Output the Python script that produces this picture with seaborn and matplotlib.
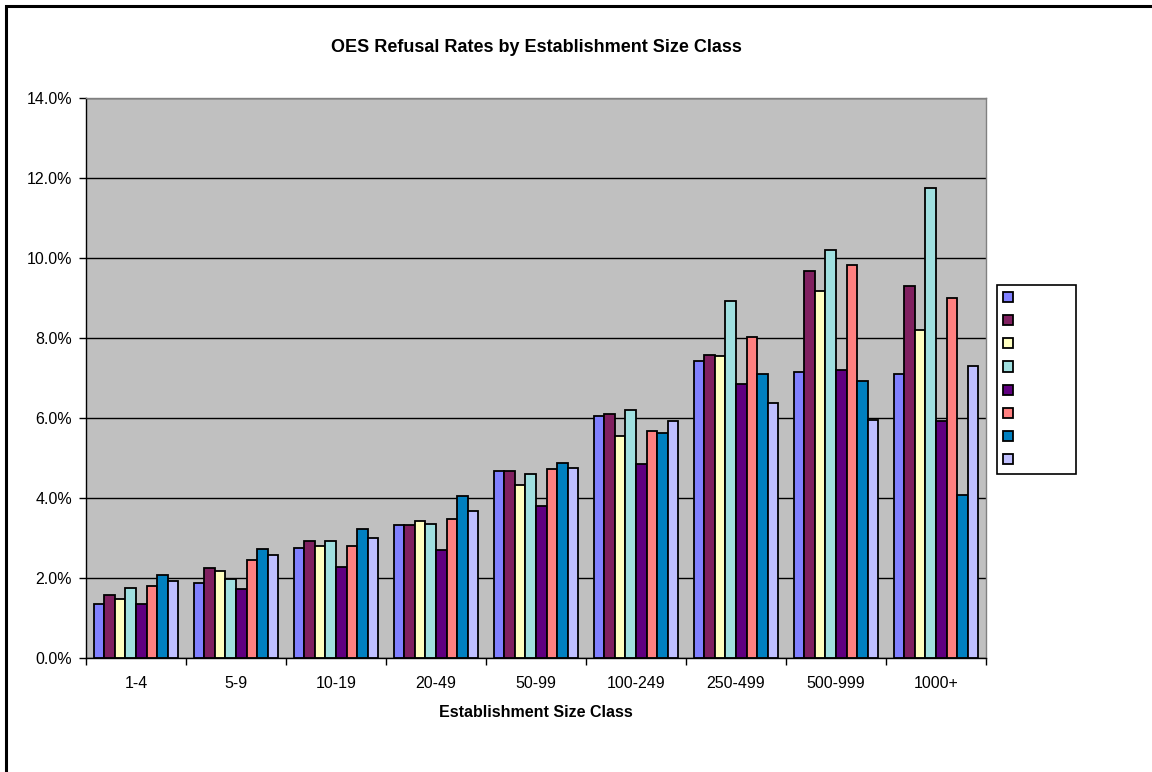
import pandas as pd
import numpy as np
import matplotlib
matplotlib.use("Agg")
import matplotlib.pyplot as plt
from matplotlib.patches import Rectangle
from matplotlib.ticker import FuncFormatter, FixedLocator
import seaborn as sns

# ===============================
# Data (refusal rate, %)
# ===============================
size_classes = ["1-4", "5-9", "10-19", "20-49", "50-99",
                "100-249", "250-499", "500-999", "1000+"]
series_names = ["S1", "S2", "S3", "S4", "S5", "S6", "S7", "S8"]

s1 = [1.36, 1.87, 2.75, 3.32, 4.68, 6.04, 7.42, 7.15, 7.11]
s2 = [1.58, 2.24, 2.93, 3.32, 4.67, 6.10, 7.57, 9.67, 9.30]
s3 = [1.47, 2.17, 2.81, 3.42, 4.32, 5.56, 7.54, 9.17, 8.20]
s4 = [1.74, 1.97, 2.93, 3.36, 4.60, 6.19, 8.93, 10.20, 11.74]
s5 = [1.35, 1.72, 2.28, 2.70, 3.81, 4.84, 6.85, 7.19, 5.93]
s6 = [1.79, 2.44, 2.81, 3.47, 4.72, 5.67, 8.02, 9.82, 9.00]
s7 = [2.07, 2.72, 3.22, 4.04, 4.87, 5.63, 7.10, 6.93, 4.08]
s8 = [1.92, 2.57, 2.99, 3.67, 4.76, 5.92, 6.38, 5.94, 7.31]

palette = ["#8080FF", "#802060", "#FFFFC0", "#A0E0E0",
           "#600080", "#FF8080", "#0080C0", "#C0C0FF"]

all_series = [s1, s2, s3, s4, s5, s6, s7, s8]
rows = []
for name, vals in zip(series_names, all_series):
    for size, v in zip(size_classes, vals):
        rows.append({"size": size, "series": name, "rate": v / 100.0})
df = pd.DataFrame(rows)

# ===============================
# Plot
# ===============================
sns.set_style("white")
plt.rcParams['font.family'] = ['Liberation Sans', 'DejaVu Sans']
plt.rcParams['text.color'] = 'black'
plt.rcParams['axes.labelcolor'] = 'black'
plt.rcParams['xtick.color'] = 'black'
plt.rcParams['ytick.color'] = 'black'

fig = plt.figure(figsize=(11.52, 7.72), dpi=100)
ax = fig.add_axes([86 / 1152, 1 - 658 / 772, 900 / 1152, 560 / 772])
ax.set_facecolor("#C0C0C0")

sns.barplot(data=df, x="size", y="rate", hue="series", order=size_classes,
            hue_order=series_names, palette=palette, width=8 / 9.5,
            edgecolor="black", linewidth=1.3, saturation=1, ax=ax)

ax.set_ylim(0, 0.14)
ax.set_xlim(-0.5, len(size_classes) - 0.5)
ax.set_yticks(np.arange(0, 0.141, 0.02))
ax.yaxis.set_major_formatter(FuncFormatter(lambda v, p: f"{v * 100:.1f}%"))
ax.grid(axis="y", color="black", linewidth=1.0)
ax.set_axisbelow(True)

ax.xaxis.set_minor_locator(FixedLocator(np.arange(-0.5, len(size_classes), 1.0)))
ax.tick_params(axis="x", which="major", length=0, pad=13, labelsize=11.5, colors="black")
ax.tick_params(axis="x", which="minor", length=5, width=1, color="black", bottom=True)
ax.tick_params(axis="y", length=5, width=1, color="black", labelcolor="black",
               pad=5, labelsize=11.5, left=True)

for side in ["top", "right"]:
    ax.spines[side].set_color("#808080")
    ax.spines[side].set_linewidth(1.0)
for side in ["left", "bottom"]:
    ax.spines[side].set_color("black")
    ax.spines[side].set_linewidth(1.0)

ax.set_ylabel("")
ax.set_xlabel("Establishment Size Class", fontsize=11.5, fontweight="bold",
              labelpad=10, color="black")

fig.text(536 / 1152, 1 - 47 / 772, "OES Refusal Rates by Establishment Size Class",
         ha="center", va="center", fontsize=13, fontweight="bold", color="black")

# legend: colour squares only, no labels
handles, labels = ax.get_legend_handles_labels()
ax.legend(handles, [""] * len(handles), loc="upper left",
          bbox_to_anchor=(997 / 1152, 1 - 471 / 772, 79 / 1152, 186 / 772),
          bbox_transform=fig.transFigure, mode="expand", fontsize=11,
          handlelength=0.65, handleheight=0.65, labelspacing=0.6,
          borderaxespad=0, borderpad=0.42, handletextpad=0.5,
          frameon=True, fancybox=False, edgecolor="black", facecolor="white",
          framealpha=1)
ax.get_legend().get_frame().set_linewidth(1.2)

# outer chart border (top and left edges visible)
fig.add_artist(Rectangle((6 / 1152, -0.2), 1.2, 1.2 - 6 / 772,
                         transform=fig.transFigure, fill=False,
                         edgecolor="black", linewidth=2.2))

fig.savefig("out.png", dpi=100)
